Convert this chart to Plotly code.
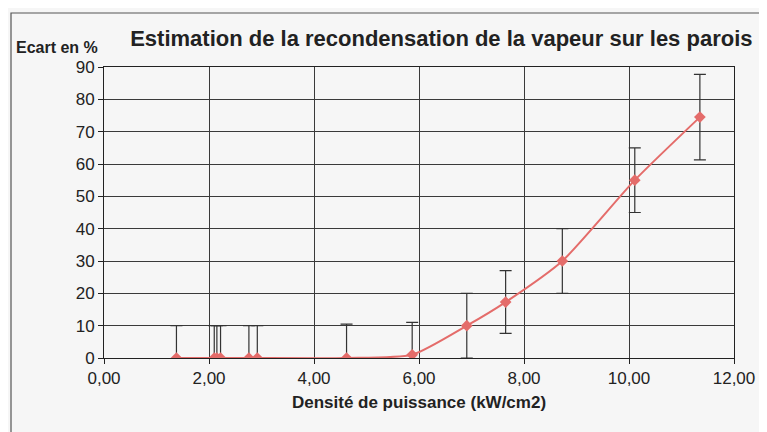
import plotly.graph_objects as go

# Data
densite = [1.38, 2.10, 2.15, 2.22, 2.76, 2.92, 4.62, 5.87, 6.91, 7.65, 8.73, 10.11, 11.35]
ecart = [0, 0, 0, 0, 0, 0, 0, 1, 10, 17.3, 30, 55, 74.5]
erreur = [10, 10, 10, 10, 10, 10, 10.5, 10, 10, 9.7, 10, 10, 13.2]

x_ticks = [0, 2, 4, 6, 8, 10, 12]
y_ticks = [0, 10, 20, 30, 40, 50, 60, 70, 80, 90]

red = "#e46c6a"
font_family = "Liberation Sans, Arial, sans-serif"

fig = go.Figure()
fig.add_trace(go.Scatter(
    x=densite, y=ecart,
    mode="lines+markers",
    line=dict(color=red, width=2, shape="spline", smoothing=0.6),
    marker=dict(symbol="diamond", size=9, color=red),
    error_y=dict(type="data", array=erreur, visible=True,
                 color="#333333", thickness=1.2, width=6),
    showlegend=False,
))

fig.update_layout(
    width=767, height=432,
    margin=dict(l=96, r=41, t=59, b=82),
    paper_bgcolor="#f6f6f6",
    plot_bgcolor="#f6f6f6",
    separators=", ",
    font=dict(family=font_family, color="#222222", size=17),
    title=dict(text="<b>Estimation de la recondensation de la vapeur sur les parois</b>",
               x=0.565, xanchor="center", y=0.93, yanchor="middle",
               font=dict(size=22, color="#222222", family=font_family)),
    xaxis=dict(
        range=[0, 12], tickvals=x_ticks, tickformat=".2f",
        showgrid=True, gridcolor="#3a3a3a", gridwidth=1,
        showline=True, linecolor="#222222", linewidth=1, mirror=True,
        ticks="outside", ticklen=5, tickcolor="#222222",
        zeroline=False,
        tickfont=dict(size=17),
        title=dict(text="<b>Densité de puissance (kW/cm2)</b>", font=dict(size=17), standoff=8),
    ),
    yaxis=dict(
        range=[0, 90], tickvals=y_ticks,
        showgrid=True, gridcolor="#3a3a3a", gridwidth=1,
        showline=True, linecolor="#222222", linewidth=1, mirror=True,
        ticks="outside", ticklen=5, tickcolor="#222222",
        zeroline=False,
        tickfont=dict(size=17),
    ),
    annotations=[dict(
        text="<b>Ecart en %</b>", xref="paper", yref="paper",
        x=-90/630, y=1.0 + 20/291, xanchor="left", yanchor="middle",
        showarrow=False, font=dict(size=16, color="#222222"),
    )],
    shapes=[dict(
        type="rect", xref="paper", yref="paper",
        x0=-93/630, x1=(763-96)/630, y0=-(427-350)/291, y1=1 + (59-5)/291,
        line=dict(color="#555555", width=1.2), fillcolor="rgba(0,0,0,0)",
    )],
)

fig.write_html("out.html")
